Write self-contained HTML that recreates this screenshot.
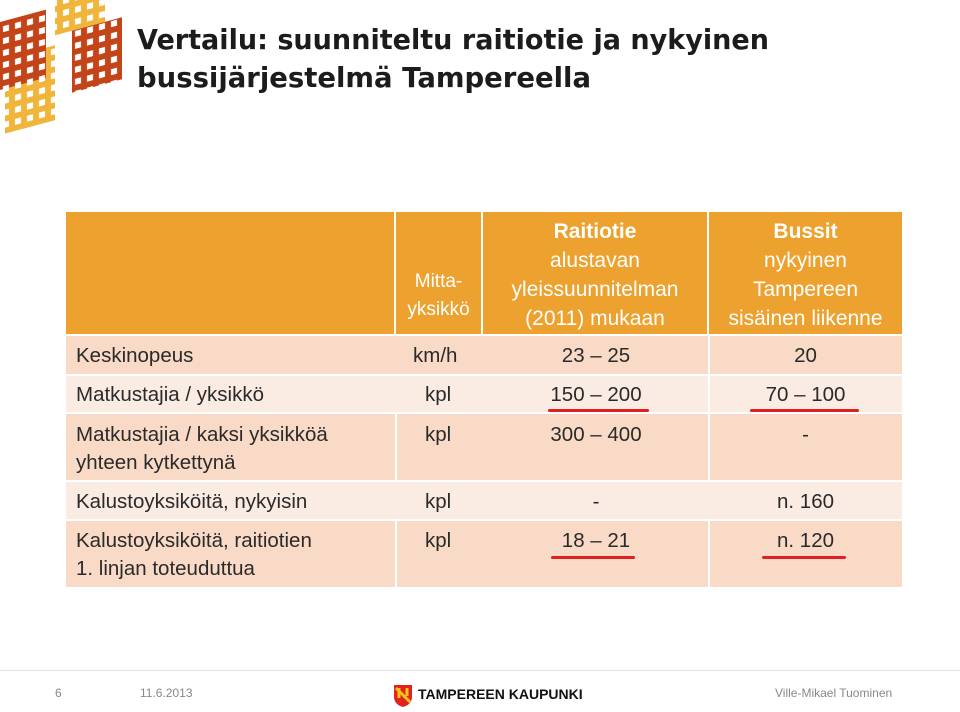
<!DOCTYPE html>
<html><head><meta charset="utf-8"><style>
body{margin:0;width:960px;height:712px;background:#fff;position:relative;overflow:hidden;font-family:"Liberation Sans",sans-serif}
.a{position:absolute}
.c{position:absolute;box-sizing:border-box;font-size:20.5px;color:#2a2a2a;line-height:27px;white-space:nowrap}
.h{background:#EDA12E;color:#fff;text-align:center;font-size:21px;line-height:29px}
.r1{background:#F8DAC6}.r2{background:#FBECE3}
.u{position:absolute;height:3px;background:#E02020;border-radius:2px}
</style></head><body>
<svg class="a" style="left:0;top:0" width="130" height="135">
<defs>
<pattern id="gr" width="12" height="12" patternUnits="userSpaceOnUse"><rect width="12" height="12" fill="#C4441A"/><rect x="3" y="3" width="6" height="6" fill="#fff"/></pattern>
<pattern id="gy" width="12" height="12" patternUnits="userSpaceOnUse"><rect width="12" height="12" fill="#F0B53A"/><rect x="3" y="3" width="6" height="6" fill="#fff"/></pattern>
</defs>
<rect x="55" y="12" width="50" height="38" fill="url(#gy)" transform="skewY(-15)"/>
<rect x="5" y="60" width="50" height="75" fill="url(#gy)" transform="skewY(-15)"/>
<rect x="0" y="22" width="46" height="68" fill="url(#gr)" transform="skewY(-15)"/>
<rect x="72" y="50" width="50" height="62" fill="url(#gr)" transform="skewY(-15)"/>
</svg>
<svg class="a" style="left:0;top:0" width="960" height="110">
<text x="137" y="49" textLength="632" lengthAdjust="spacingAndGlyphs" font-family="DejaVu Sans,sans-serif" font-size="28" font-weight="bold" fill="#1c1c1c">Vertailu: suunniteltu raitiotie ja nykyinen</text>
<text x="137" y="87" textLength="454" lengthAdjust="spacingAndGlyphs" font-family="DejaVu Sans,sans-serif" font-size="28" font-weight="bold" fill="#1c1c1c">bussijärjestelmä Tampereella</text>
</svg>
<div>
<div class="c h" style="left:66px;top:212px;width:328px;height:122px"></div>
<div class="c h" style="left:396px;top:212px;width:85px;height:122px;padding-top:56px;line-height:28px;font-size:19px">Mitta-<br>yksikkö</div>
<div class="c h" style="left:483px;top:212px;width:224px;height:122px;padding-top:5px"><b>Raitiotie</b><br>alustavan<br>yleissuunnitelman<br>(2011) mukaan</div>
<div class="c h" style="left:709px;top:212px;width:193px;height:122px;padding-top:5px"><b>Bussit</b><br>nykyinen<br>Tampereen<br>sisäinen liikenne</div>

<div class="c r1" style="left:66px;top:336px;width:836px;height:38px"></div>
<div class="c r2" style="left:66px;top:376px;width:836px;height:36px"></div>
<div class="c r1" style="left:66px;top:414px;width:836px;height:66px"></div>
<div class="c r2" style="left:66px;top:482px;width:836px;height:37px"></div>
<div class="c r1" style="left:66px;top:521px;width:836px;height:66px"></div>
<div class="a" style="left:395px;top:414px;width:2px;height:66px;background:#fff"></div>
<div class="a" style="left:395px;top:521px;width:2px;height:66px;background:#fff"></div>
<div class="a" style="left:708px;top:336px;width:2px;height:144px;background:#fff"></div>
<div class="a" style="left:708px;top:521px;width:2px;height:66px;background:#fff"></div>

<div class="c" style="left:76px;top:342px">Keskinopeus</div>
<div class="c" style="left:413px;top:342px">km/h</div>
<div class="c" style="left:483px;top:342px;width:226px;text-align:center">23 – 25</div>
<div class="c" style="left:709px;top:342px;width:193px;text-align:center">20</div>

<div class="c" style="left:76px;top:381px">Matkustajia / yksikkö</div>
<div class="c" style="left:425px;top:381px">kpl</div>
<div class="c" style="left:483px;top:381px;width:226px;text-align:center">150 – 200</div>
<div class="c" style="left:709px;top:381px;width:193px;text-align:center">70 – 100</div>

<div class="c" style="left:76px;top:421px;line-height:28px">Matkustajia / kaksi yksikköä<br>yhteen kytkettynä</div>
<div class="c" style="left:425px;top:421px">kpl</div>
<div class="c" style="left:483px;top:421px;width:226px;text-align:center">300 – 400</div>
<div class="c" style="left:709px;top:421px;width:193px;text-align:center">-</div>

<div class="c" style="left:76px;top:488px">Kalustoyksiköitä, nykyisin</div>
<div class="c" style="left:425px;top:488px">kpl</div>
<div class="c" style="left:483px;top:488px;width:226px;text-align:center">-</div>
<div class="c" style="left:709px;top:488px;width:193px;text-align:center">n. 160</div>

<div class="c" style="left:76px;top:527px;line-height:28px">Kalustoyksiköitä, raitiotien<br>1. linjan toteuduttua</div>
<div class="c" style="left:425px;top:527px">kpl</div>
<div class="c" style="left:483px;top:527px;width:226px;text-align:center">18 – 21</div>
<div class="c" style="left:709px;top:527px;width:193px;text-align:center">n. 120</div>
</div>
<div class="u" style="left:548px;top:409px;width:101px"></div>
<div class="u" style="left:750px;top:409px;width:109px"></div>
<div class="u" style="left:551px;top:556px;width:84px"></div>
<div class="u" style="left:762px;top:556px;width:84px"></div>

<div class="a" style="left:0;top:670px;width:960px;height:1px;background:#e4e4e4"></div>
<div class="a" style="left:55px;top:686px;font-size:12px;color:#888">6</div>
<div class="a" style="left:140px;top:686px;font-size:12px;color:#888">11.6.2013</div>
<svg class="a" style="left:393px;top:684px" width="20" height="24"><path d="M1 1h18v12c0 6-5 9-9 10-4-1-9-4-9-10z" fill="#E0241B"/><path d="M3 4l14 14M6 4v10M14 4v8" stroke="#F5C31A" stroke-width="3"/></svg>
<div class="a" style="left:418px;top:686px;font-size:14px;font-weight:bold;color:#111">TAMPEREEN KAUPUNKI</div>
<div class="a" style="left:775px;top:686px;font-size:12px;color:#888">Ville-Mikael Tuominen</div>
</body></html>
